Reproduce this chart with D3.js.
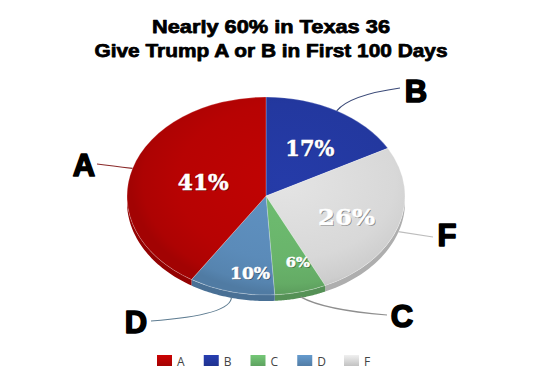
<!DOCTYPE html>
<html><head><meta charset="utf-8">
<script src="https://cdn.jsdelivr.net/npm/d3@7"></script>
<style>body{margin:0;background:#fff}svg{display:block}</style>
</head><body><svg id="c" width="550" height="382"></svg>
<script>
// ---- data ----
const titleLines = ["Nearly 60% in Texas 36", "Give Trump A or B in First 100 Days"];
const categories = ["A", "B", "C", "D", "F"];
const values = [41, 17, 6, 10, 26];
const pieOrder = ["B", "F", "C", "D", "A"];
const colors = {A: "#b70303", B: "#23389f", C: "#69b46b", D: "#5b8bb9", F: "#d8d8d8"};

// ---- layout ----
const cx = 266, cy = 196, rx = 139, ry = 99, depth = 6;
// [x factor, y factor, font size, text width]
const pctLayout = {A: [0.47, 0.52, 23, 51], B: [0.62, 0.56, 23, 49], F: [0.61, 0.69, 23, 57], D: [0.46, 0.8, 17, 40], C: [0.92, 0.7, 12.5, 24]};
const letterLayout = {
  A: {x: 84, y: 176, elbow: [112, 166], end: [97, 164]},
  B: {x: 416, y: 102, elbow: [350, 95], end: [400, 88]},
  F: {x: 447, y: 246, elbow: [414, 234], end: [433, 237]},
  C: {x: 402, y: 327, elbow: [324, 310], end: [387, 315]},
  D: {x: 136, y: 333, elbow: [232, 315], end: [151, 321]}
};
const leaderColors = {A: "#8a2a2a", B: "#3b4a78", F: "#bdbdbd", C: "#8f8f8f", D: "#5f7d92"};

const svg = d3.select("#c");
svg.append("rect").attr("width", 550).attr("height", 382).attr("fill", "#fff");
const defs = svg.append("defs");

const data = pieOrder.map(k => ({key: k, value: values[categories.indexOf(k)]}));
const pie = d3.pie().sort(null).value(d => d.value).startAngle(0).endAngle(2 * Math.PI);
const arcs = pie(data);
const ex = a => cx + rx * Math.sin(a), ey = a => cy - ry * Math.cos(a);

// gradients
arcs.forEach(d => {
  const base = d3.color(colors[d.data.key]);
  const g = defs.append("radialGradient").attr("id", "g" + d.data.key)
    .attr("gradientUnits", "userSpaceOnUse").attr("cx", 20).attr("cy", -20).attr("r", rx * 1.12);
  g.append("stop").attr("offset", "0%").attr("stop-color", base.brighter(0.15));
  g.append("stop").attr("offset", "70%").attr("stop-color", base);
  g.append("stop").attr("offset", "92%").attr("stop-color", base.darker(0.15));
  g.append("stop").attr("offset", "100%").attr("stop-color", base.darker(0.35));
});

// sides
const sides = svg.append("g");
arcs.forEach(d => {
  const a0 = Math.max(d.startAngle, Math.PI / 2), a1 = Math.min(d.endAngle, 3 * Math.PI / 2);
  if (a1 <= a0) return;
  const n = 40, top = [], bot = [];
  for (let i = 0; i <= n; i++) {
    const a = a0 + (a1 - a0) * i / n;
    top.push([ex(a), ey(a)]);
    bot.push([ex(a), ey(a) + depth]);
  }
  const pts = top.concat(bot.reverse());
  sides.append("path").attr("d", "M" + pts.map(p => p.join(",")).join("L") + "Z")
    .attr("fill", d3.color(colors[d.data.key]).darker(0.6));
});

// top faces
const arcGen = d3.arc().innerRadius(0).outerRadius(rx);
const face = svg.append("g").attr("transform", `translate(${cx},${cy}) scale(1,${ry / rx})`);
face.selectAll("path").data(arcs).join("path")
  .attr("d", arcGen)
  .attr("fill", d => `url(#g${d.data.key})`)
  .attr("stroke", "rgba(255,255,255,0.35)").attr("stroke-width", 0.8);

// percent labels
const pctG = svg.append("g");
arcs.forEach(d => {
  const m = (d.startAngle + d.endAngle) / 2;
  const [kx, ky, fs, tw] = pctLayout[d.data.key];
  const x = cx + rx * kx * Math.sin(m), y = cy - ry * ky * Math.cos(m) + fs * 0.35;
  const txt = d.data.value + "%";
  [[1, 1, "rgba(0,0,0,0.4)", "none"], [0, 0, "#fff", "#fff"]].forEach(([dx, dy, fill, stroke]) => {
    pctG.append("text").attr("x", x + dx).attr("y", y + dy).attr("text-anchor", "middle")
      .attr("font-family", "DejaVu Serif").attr("font-weight", "bold").attr("font-size", fs)
      .attr("textLength", tw).attr("lengthAdjust", "spacingAndGlyphs")
      .attr("fill", fill).attr("stroke", stroke).attr("stroke-width", 0.5).text(txt);
  });
});

// leader lines and category letters
const lg = svg.append("g");
arcs.forEach(d => {
  const k = d.data.key, L = letterLayout[k];
  const m = (d.startAngle + d.endAngle) / 2;
  const bottom = m > Math.PI / 2 && m < 3 * Math.PI / 2;
  const sx = ex(m), sy = ey(m) + (bottom ? depth - 1 : 0);
  const p = d3.path();
  p.moveTo(sx, sy);
  p.quadraticCurveTo(L.elbow[0], L.elbow[1], L.end[0], L.end[1]);
  lg.append("path").attr("d", p.toString()).attr("fill", "none")
    .attr("stroke", leaderColors[k]).attr("stroke-width", 1.2);
  lg.append("text").attr("x", L.x).attr("y", L.y).attr("text-anchor", "middle")
    .attr("font-family", "Liberation Sans").attr("font-weight", "bold").attr("font-size", 31)
    .attr("fill", "#000").attr("stroke", "#000").attr("stroke-width", 1.6)
    .attr("stroke-linejoin", "round").text(k);
});

// title
const tl = svg.append("g");
const titleWidths = [238, 353];
titleLines.forEach((t, i) => {
  tl.append("text").attr("x", 271).attr("y", 33 + i * 24).attr("text-anchor", "middle")
    .attr("font-family", "Liberation Sans").attr("font-weight", "bold").attr("font-size", 19)
    .attr("fill", "#000").attr("stroke", "#000").attr("stroke-width", 0.75)
    .attr("stroke-linejoin", "round")
    .attr("textLength", titleWidths[i]).attr("lengthAdjust", "spacingAndGlyphs").text(t);
});

// legend
const legX = d3.scalePoint().domain(categories).range([157, 344]);
const leg = svg.append("g");
categories.forEach(k => {
  const base = d3.color(colors[k]);
  const lgId = "l" + k;
  const gr = defs.append("linearGradient").attr("id", lgId).attr("x1", 0).attr("y1", 0).attr("x2", 0).attr("y2", 1);
  gr.append("stop").attr("offset", "0%").attr("stop-color", base.brighter(0.3));
  gr.append("stop").attr("offset", "100%").attr("stop-color", base.darker(0.3));
  leg.append("rect").attr("x", legX(k)).attr("y", 355).attr("width", 15).attr("height", 11)
    .attr("fill", `url(#${lgId})`);
  leg.append("text").attr("x", legX(k) + 20).attr("y", 366)
    .attr("font-family", "Open Sans").attr("font-size", 12).attr("fill", "#444").text(k);
});
</script></body></html>
